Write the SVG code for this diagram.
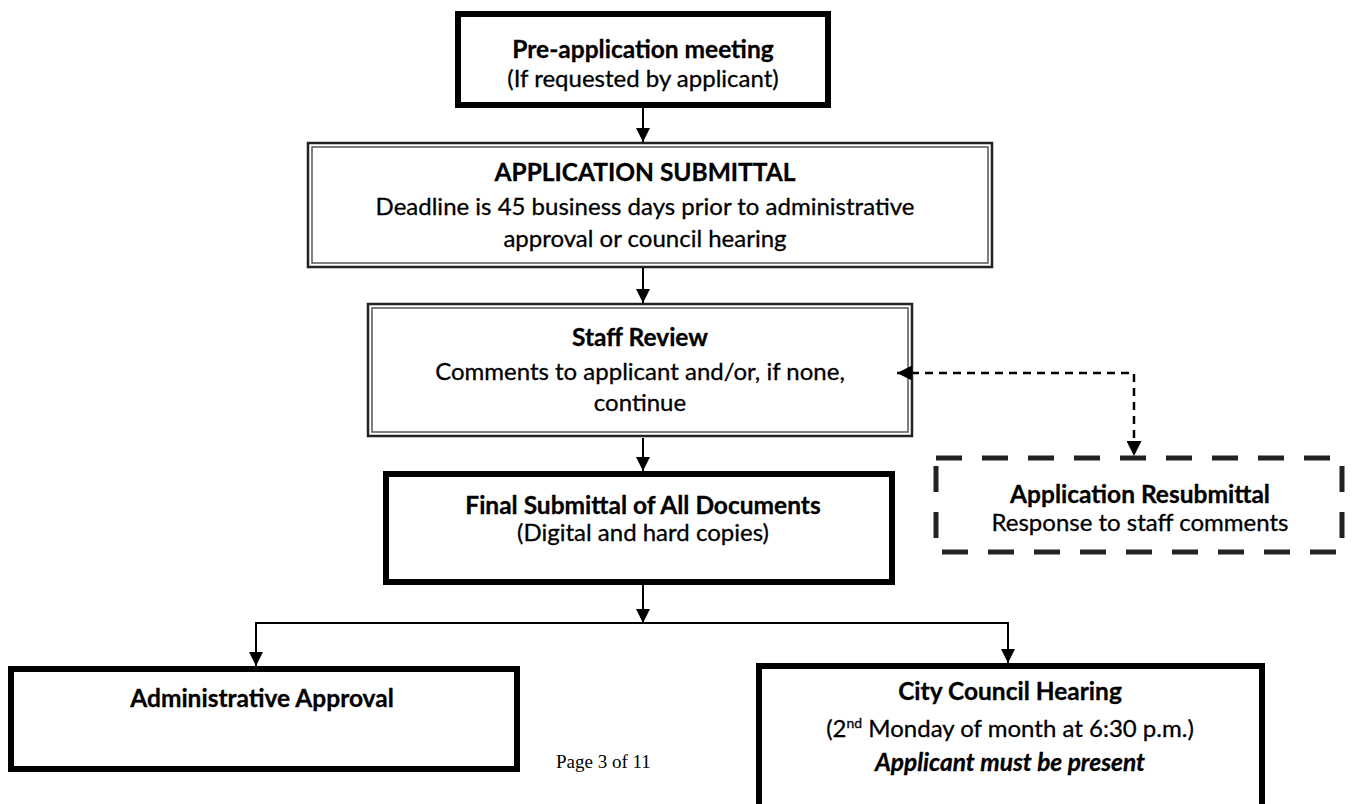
<svg xmlns="http://www.w3.org/2000/svg" width="1354" height="804" viewBox="0 0 1354 804">
<style>
.t{font-family:Lato,"Open Sans","Liberation Sans",sans-serif;font-size:24px;fill:#000;stroke:#000;stroke-width:0.3;text-anchor:middle}
.b{font-weight:bold;font-size:24.5px}
.bi{font-weight:bold;font-style:italic;font-size:24.5px}
.thick{fill:#fff;stroke:#000;stroke-width:6}
.dbl{fill:#fff;stroke:#222;stroke-width:2.5}
.dbli{fill:none;stroke:#555;stroke-width:1.5}
.dash{fill:none;stroke:#222;stroke-width:5;stroke-dasharray:26 20}
.ln{fill:none;stroke:#000;stroke-width:2}
.dl{fill:none;stroke:#000;stroke-width:2.5;stroke-dasharray:8 6}
</style>
<defs>
<marker id="ah" viewBox="0 0 10 10" refX="10" refY="5" markerWidth="7" markerHeight="7" markerUnits="strokeWidth" orient="auto">
<path d="M0,0 L10,5 L0,10 z" fill="#000"/>
</marker>
<marker id="ahd" viewBox="0 0 10 10" refX="10" refY="5" markerWidth="6" markerHeight="6" markerUnits="strokeWidth" orient="auto-start-reverse">
<path d="M0,0 L10,5 L0,10 z" fill="#000"/>
</marker>
</defs>
<rect width="1354" height="804" fill="#fff"/>
<g id="pre-application">
<rect class="thick" x="458" y="14" width="370" height="91"/>
<text class="t b" x="643" y="58">Pre-application meeting</text>
<text class="t" x="643" y="87">(If requested by applicant)</text>
</g>
<g id="application-submittal">
<rect class="dbl" x="308" y="143" width="684" height="124"/>
<rect class="dbli" x="312" y="147" width="676" height="116"/>
<text class="t b" x="645" y="181">APPLICATION SUBMITTAL</text>
<text class="t" x="645" y="215">Deadline is 45 business days prior to administrative</text>
<text class="t" x="645" y="247">approval or council hearing</text>
</g>
<g id="staff-review">
<rect class="dbl" x="368" y="304" width="544" height="132"/>
<rect class="dbli" x="372" y="308" width="536" height="124"/>
<text class="t b" x="640" y="346">Staff Review</text>
<text class="t" x="640" y="380">Comments to applicant and/or, if none,</text>
<text class="t" x="640" y="411">continue</text>
</g>
<g id="resubmittal">
<rect class="dash" x="936" y="458" width="406" height="94"/>
<text class="t b" x="1140" y="503">Application Resubmittal</text>
<text class="t" x="1140" y="531">Response to staff comments</text>
</g>
<g id="final-submittal">
<rect class="thick" x="386" y="474" width="506" height="108"/>
<text class="t b" x="643" y="514">Final Submittal of All Documents</text>
<text class="t" x="643" y="541">(Digital and hard copies)</text>
</g>
<g id="administrative-approval">
<rect class="thick" x="11" y="669" width="506" height="100"/>
<text class="t b" x="262" y="707">Administrative Approval</text>
</g>
<g id="city-council">
<rect class="thick" x="759" y="666" width="503" height="150"/>
<text class="t b" x="1010" y="700">City Council Hearing</text>
<text class="t" x="1010" y="737">(2<tspan font-size="14" dy="-9">nd</tspan><tspan dy="9"> Monday of month at 6:30 p.m.)</tspan></text>
<text class="t bi" x="1010" y="771">Applicant must be present</text>
</g>
<g id="connectors">
<line class="ln" x1="643" y1="108" x2="643" y2="142" marker-end="url(#ah)"/>
<line class="ln" x1="643" y1="268" x2="643" y2="303" marker-end="url(#ah)"/>
<line class="ln" x1="643" y1="438" x2="643" y2="471" marker-end="url(#ah)"/>
<line class="ln" x1="643" y1="585" x2="643" y2="623" marker-end="url(#ah)"/>
<polyline class="ln" points="643,623 256,623 256,666" marker-end="url(#ah)"/>
<polyline class="ln" points="643,623 1008,623 1008,663" marker-end="url(#ah)"/>
<polyline class="dl" points="897,373 1134,373 1134,456" marker-start="url(#ahd)" marker-end="url(#ahd)"/>
</g>
<text x="556" y="768" font-family="'Liberation Serif',serif" font-size="19">Page 3 of 11</text>
</svg>
